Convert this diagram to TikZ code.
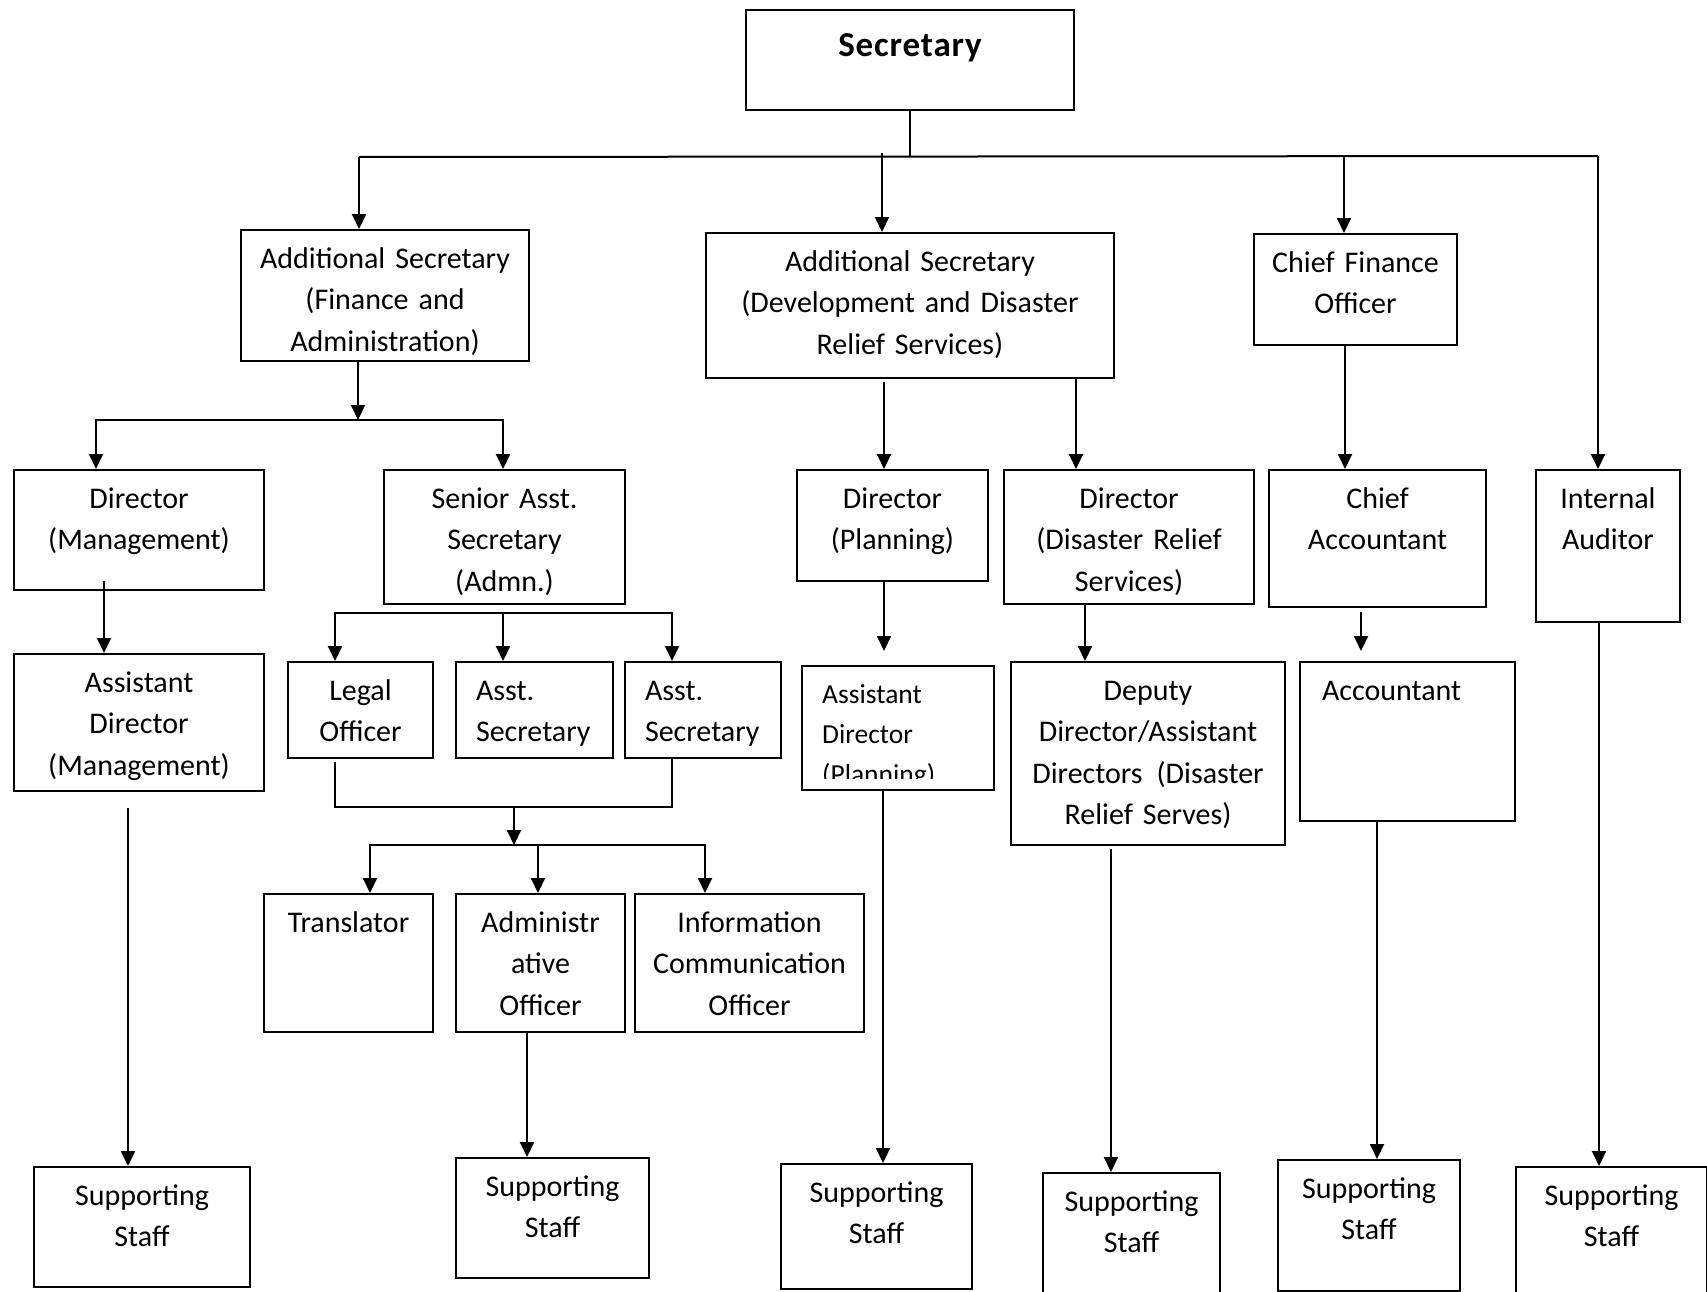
\documentclass[tikz,border=0pt]{standalone}
\usepackage{fontspec}
\setmainfont{Carlito}
\newfontfamily\headfont[LetterSpace=2.5]{Carlito}
\usetikzlibrary{arrows.meta}

\tikzset{
  box/.style={draw, line width=2pt, anchor=north west, inner sep=0pt, align=center,
    text height=38pt, font=\fontsize{30}{41.5}\selectfont},
  lbox/.style={box, align=left, inner xsep=20pt},
  conn/.style={line width=2pt},
  arr/.style={conn, -{Triangle[length=15pt,width=14pt]}},
  arrs/.style={conn, {Triangle[length=15pt,width=14pt]}-{Triangle[length=15pt,width=14pt]}},
}

\begin{document}
\begin{tikzpicture}[x=1pt,y=1pt,yscale=-1]
\useasboundingbox (0,0) rectangle (1707,1292);

%Shape: Rectangle -- top
\node[box, text width=328pt, text height=47pt, text depth=53pt, font=\headfont\bfseries\fontsize{35}{42}\selectfont] (sec) at (745,9) {Secretary};

%Shape: Rectangle -- second row
\node[box, text width=288pt, text depth=93pt] (as1) at (240,229) {Additional Secretary\\(Finance and\\Administration)};
\node[box, text width=408pt, text depth=107pt] (as2) at (705,232) {Additional Secretary\\(Development and Disaster\\Relief Services)};
\node[box, text width=203pt, text depth=73pt] (cfo) at (1253,233) {Chief Finance\\Officer};

%Shape: Rectangle -- third row
\node[box, text width=250pt, text depth=82pt] (dm) at (13,469) {Director\\(Management)};
\node[box, text width=241pt, text depth=96pt] (sas) at (383,469) {Senior Asst.\\Secretary\\(Admn.)};
\node[box, text width=191pt, text depth=73pt] (dp) at (796,469) {Director\\(Planning)};
\node[box, text width=250pt, text depth=96pt] (ddrs) at (1003,469) {Director\\(Disaster Relief\\Services)};
\node[box, text width=217pt, text depth=99pt] (ca) at (1268,469) {Chief\\Accountant};
\node[box, text width=144pt, text depth=114pt] (ia) at (1535,469) {Internal\\Auditor};

%Shape: Rectangle -- fourth row
\node[box, text width=250pt, text depth=99pt] (adm) at (13,653) {Assistant\\Director\\(Management)};
\node[box, text width=145pt, text depth=58pt] (lo) at (287,661) {Legal\\Officer};
\node[lbox, text width=117pt, text depth=58pt] (asec1) at (455,661) {Asst.\\Secretary};
\node[lbox, text width=116pt, text depth=58pt] (asec2) at (624,661) {Asst.\\Secretary};
\node[box, text width=192pt, text depth=86pt] (adp) at (801,665) {};
\node[box, text width=274pt, text depth=145pt] (dep) at (1010,661) {Deputy\\Director/Assistant\\Directors\hspace{14pt}(Disaster\\Relief Serves)};
\node[lbox, inner xsep=22pt, text width=171pt, text depth=121pt] (acc) at (1299,661) {Accountant};

% Text Node -- clipped by its box
\begin{scope}
\clip (801,665) rectangle (993,778);
\node[anchor=north west, inner sep=0pt, text width=165pt, align=left, text height=38pt,
  font=\fontsize{27.5}{40}\selectfont] (adp-t) at (822,665) {Assistant\\Director\\(Planning)};
\end{scope}

%Shape: Rectangle -- fifth row
\node[box, text width=169pt, text depth=100pt] (tr) at (263,893) {Translator};
\node[box, text width=169pt, text depth=100pt] (ao) at (455,893) {Administr\\ative\\Officer};
\node[box, text width=229pt, text depth=100pt] (ico) at (634,893) {Information\\Communication\\Officer};

%Shape: Rectangle -- supporting staff
\node[box, text width=216pt, text depth=82pt] (ss1) at (33,1166) {Supporting\\Staff};
\node[box, text width=193pt, text depth=82pt] (ss2) at (455,1157) {Supporting\\Staff};
\node[box, text width=191pt, text depth=87pt] (ss3) at (780,1163) {Supporting\\Staff};
\node[box, text width=177pt, text depth=102pt] (ss4) at (1042,1172) {Supporting\\Staff};
\node[box, text width=182pt, text depth=93pt] (ss5) at (1277,1159) {Supporting\\Staff};
\node[box, text width=191pt, text depth=102pt] (ss6) at (1515,1166) {Supporting\\Staff};

%Straight Lines -- from the Secretary
\coordinate (bus-l) at (359,157);
\coordinate (bus-r) at (1598,156);
\coordinate (bus-as2) at (882,153);
\coordinate (bus-cfo) at (1344,157);
\draw[conn] (sec.south) -- (sec.south |- bus-l);
\draw[conn] (bus-l) -- (bus-r);
\draw[arr] (bus-l) -- (bus-l |- as1.north);
\draw[arr] (bus-as2) -- (bus-as2 |- as2.north);
\draw[arr] (bus-cfo) -- (bus-cfo |- cfo.north);
\draw[arr] (bus-r) -- (bus-r |- ia.north);

%Straight Lines -- finance and administration
\coordinate (fa-bus) at (358,420);
\coordinate (fa-l) at (96,420);
\coordinate (fa-r) at (503,420);
\draw[arr] (as1.south -| fa-bus) -- (fa-bus);
\draw[arrs] (fa-l |- dm.north) -- (fa-l) -- (fa-r) -- (fa-r |- sas.north);
\coordinate (c-dm) at (104,581);
\draw[arr] (c-dm) -- (c-dm |- adm.north);
\coordinate (c-adm) at (128,808);
\draw[arr] (c-adm) -- (c-adm |- ss1.north);

%Straight Lines -- senior asst. secretary
\coordinate (sa-l) at (335,613);
\coordinate (sa-m) at (503,613);
\coordinate (sa-r) at (672,613);
\draw[arrs] (sa-l |- lo.north) -- (sa-l) -- (sa-r) -- (sa-r |- asec2.north);
\draw[arr] (sa-m) -- (sa-m |- asec1.north);
\coordinate (jn-l) at (335,762);
\coordinate (jn-r) at (672,807);
\coordinate (jn-b) at (514,807);
\draw[conn] (jn-l) -- (jn-l |- jn-r) -- (jn-r) -- (jn-r |- asec2.south);
\coordinate (tb-l) at (370,845);
\coordinate (tb-m) at (538,845);
\coordinate (tb-r) at (705,845);
\draw[arr] (jn-b) -- (jn-b |- tb-m);
\draw[arrs] (tb-l |- tr.north) -- (tb-l) -- (tb-r) -- (tb-r |- ico.north);
\draw[arr] (tb-m) -- (tb-m |- ao.north);
\coordinate (c-ao) at (527,1031);
\draw[arr] (c-ao) -- (c-ao |- ss2.north);

%Straight Lines -- development and disaster relief
\coordinate (c-dp) at (884,382);
\coordinate (c-ddrs) at (1076,377);
\draw[arr] (c-dp) -- (c-dp |- dp.north);
\draw[arr] (c-ddrs) -- (c-ddrs |- ddrs.north);
\coordinate (c-dp2) at (884,580);
\coordinate (c-dp3) at (884,651);
\draw[arr] (c-dp2) -- (c-dp3);
\coordinate (c-adp) at (883,790);
\draw[arr] (c-adp) -- (c-adp |- ss3.north);
\coordinate (c-dd) at (1085,603);
\draw[arr] (c-dd) -- (c-dd |- dep.north);
\coordinate (c-dep) at (1111,849);
\draw[arr] (c-dep) -- (c-dep |- ss4.north);

%Straight Lines -- finance officer and auditor
\coordinate (c-cfo) at (1345,344);
\draw[arr] (c-cfo) -- (c-cfo |- ca.north);
\coordinate (c-ca) at (1361,612);
\coordinate (c-ca2) at (1361,651);
\draw[arr] (c-ca) -- (c-ca2);
\coordinate (c-acc) at (1377,822);
\draw[arr] (c-acc) -- (c-acc |- ss5.north);
\coordinate (c-ia) at (1599,621);
\draw[arr] (c-ia) -- (c-ia |- ss6.north);

\end{tikzpicture}
\end{document}
